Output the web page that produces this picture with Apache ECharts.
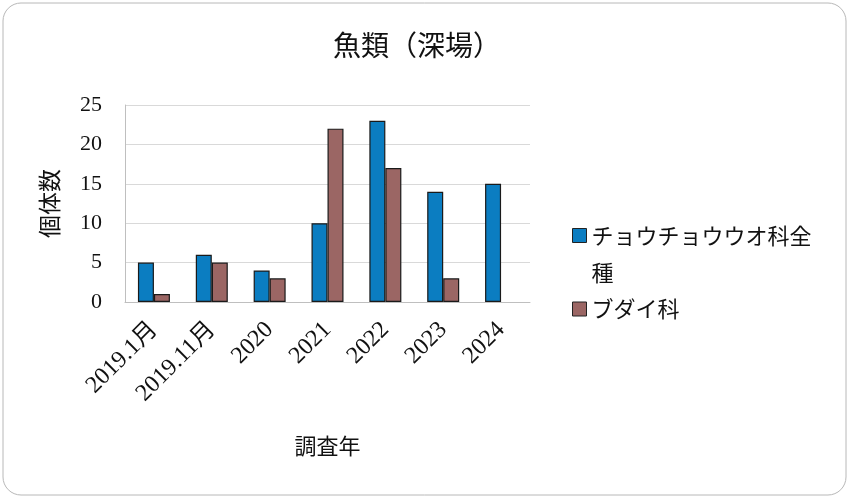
<!DOCTYPE html>
<html>
<head>
<meta charset="utf-8">
<script src="https://cdn.jsdelivr.net/npm/echarts@6/dist/echarts.min.js"></script>
<style>
  html, body { margin: 0; padding: 0; background: #fff; }
  #chart { width: 850px; height: 499px; }
</style>
</head>
<body>
<div id="chart"></div>
<script>
  // 調査年
  const categories = ['2019.1月', '2019.11月', '2020', '2021', '2022', '2023', '2024'];
  // 個体数
  const butterflyfish = [5, 6, 4, 10, 23, 14, 15];
  const parrotfish = [1, 5, 3, 22, 17, 3, null];
  const seriesNames = ['チョウチョウウオ科全種', 'ブダイ科'];

  const jp = '"Noto Sans CJK JP", sans-serif';
  const serif = '"Liberation Serif", "DejaVu Serif", "Noto Sans CJK JP", serif';

  const myChart = echarts.init(document.getElementById('chart'));
  const option = {
    animation: false,
    backgroundColor: '#fff',
    graphic: [{
      type: 'rect',
      shape: { x: 3, y: 3, width: 843, height: 492, r: 18 },
      style: { fill: 'none', stroke: '#b8b8b8', lineWidth: 1 }
    }],
    title: {
      text: '魚類（深場）',
      left: 328,
      top: 26,
      textStyle: { fontFamily: jp, fontWeight: 'normal', fontSize: 28, color: '#111' }
    },
    legend: [{
      data: [seriesNames[0]],
      orient: 'vertical',
      left: 567,
      top: 175,
      icon: 'rect',
      itemWidth: 14,
      itemHeight: 14,
      itemStyle: { borderColor: '#222', borderWidth: 1 },
      // blank first line keeps the icon level with the first text line
      formatter: function (name) {
        return ' \nチョウチョウウオ科全\n種';
      },
      textStyle: { fontFamily: jp, fontSize: 22, color: '#111', lineHeight: 37 }
    }, {
      data: [seriesNames[1]],
      orient: 'vertical',
      left: 567,
      top: 290,
      icon: 'rect',
      itemWidth: 14,
      itemHeight: 14,
      itemStyle: { borderColor: '#222', borderWidth: 1 },
      textStyle: { fontFamily: jp, fontSize: 22, color: '#111', lineHeight: 28 }
    }],
    grid: { left: 125, right: 320, top: 105, bottom: 197 },
    xAxis: {
      type: 'category',
      data: categories,
      name: '調査年',
      nameLocation: 'middle',
      nameGap: 133,
      nameTextStyle: { fontFamily: jp, fontSize: 22, color: '#111' },
      axisLine: { lineStyle: { color: '#bfbfbf', width: 1 } },
      axisTick: { show: false },
      axisLabel: {
        rotate: 45,
        interval: 0,
        margin: 24,
        fontFamily: serif,
        fontSize: 24,
        color: '#111'
      }
    },
    yAxis: {
      type: 'value',
      min: 0,
      max: 25,
      interval: 5,
      name: '個体数',
      nameLocation: 'middle',
      nameGap: 64,
      nameRotate: 90,
      nameTextStyle: { fontFamily: jp, fontSize: 23, color: '#111' },
      axisLine: { show: true, lineStyle: { color: '#bfbfbf', width: 1 } },
      axisTick: { show: false },
      splitLine: { lineStyle: { color: '#d9d9d9', width: 1 } },
      axisLabel: { fontFamily: serif, fontSize: 22, color: '#111', margin: 23 }
    },
    series: [{
      name: seriesNames[0],
      type: 'bar',
      data: butterflyfish,
      barWidth: 16,
      barGap: '0%',
      itemStyle: { color: '#0b7dc1', borderColor: '#1a1a1a', borderWidth: 1.2 }
    }, {
      name: seriesNames[1],
      type: 'bar',
      data: parrotfish,
      barWidth: 16,
      barGap: '0%',
      itemStyle: { color: '#9b6664', borderColor: '#1a1a1a', borderWidth: 1.2 }
    }]
  };
  myChart.setOption(option);
</script>
</body>
</html>
